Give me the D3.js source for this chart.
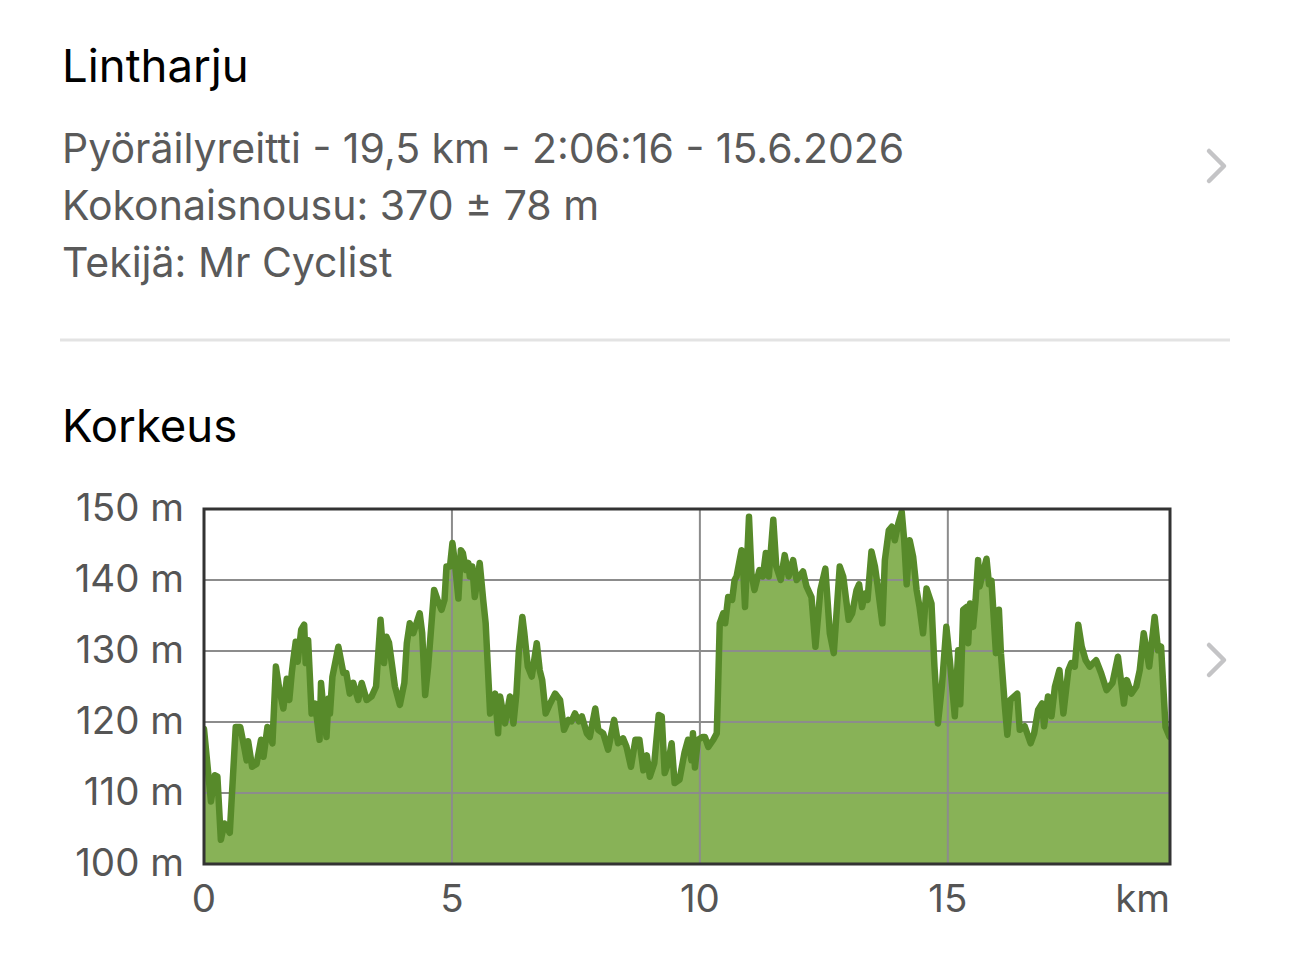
<!DOCTYPE html>
<html>
<head>
<meta charset="utf-8">
<script src="https://cdn.jsdelivr.net/npm/d3@7"></script>
<style>
  html, body { margin: 0; padding: 0; background: #ffffff; }
  svg { display: block; font-family: Inter, "Noto Sans", sans-serif; }
</style>
</head>
<body>
<svg id="chart" width="1290" height="962"></svg>
<script>
// ---- text content ----
const routeTitle = "Lintharju";
const infoLines = [
  "Pyöräilyreitti - 19,5 km - 2:06:16 - 15.6.2026",
  "Kokonaisnousu: 370 ± 78 m",
  "Tekijä: Mr Cyclist"
];
const sectionTitle = "Korkeus";

// ---- axis ticks ----
const yTicks = [100, 110, 120, 130, 140, 150];
const yTickLabels = ["100 m", "110 m", "120 m", "130 m", "140 m", "150 m"];
const xTicks = [0, 5, 10, 15];
const xTickLabels = ["0", "5", "10", "15"];
const xUnitLabel = "km";
const xMax = 19.48;

// ---- elevation profile (km, m) ----
const distanceKm = [
  0.00, 0.14, 0.22, 0.27, 0.34, 0.41, 0.47, 0.52, 0.64, 0.73, 0.81, 0.86, 0.89, 0.97,
  1.06, 1.15, 1.20, 1.28, 1.38, 1.45, 1.51, 1.60, 1.67, 1.72, 1.77, 1.80, 1.85, 1.89, 1.96,
  2.02, 2.05, 2.10, 2.17, 2.24, 2.33, 2.36, 2.42, 2.47, 2.51, 2.54, 2.59, 2.71, 2.81, 2.87, 2.94,
  3.01, 3.11, 3.18, 3.28, 3.38, 3.47, 3.56, 3.63, 3.68, 3.73, 3.85, 3.95,
  4.04, 4.09, 4.15, 4.22, 4.35, 4.40, 4.46, 4.52, 4.64, 4.71, 4.79, 4.85, 4.89, 4.96,
  5.01, 5.06, 5.13, 5.18, 5.22, 5.28, 5.33, 5.36, 5.41, 5.46, 5.50, 5.56, 5.63, 5.68, 5.77, 5.87, 5.93, 5.97,
  6.07, 6.17, 6.24, 6.30, 6.35, 6.42, 6.46, 6.53, 6.61, 6.71, 6.77, 6.82, 6.89, 6.98,
  7.08, 7.18, 7.26, 7.35, 7.41, 7.48, 7.56, 7.62, 7.72, 7.78, 7.89, 7.95,
  8.05, 8.15, 8.27, 8.35, 8.45, 8.52, 8.61, 8.70, 8.78, 8.86, 8.93, 8.99,
  9.08, 9.17, 9.23, 9.29, 9.36, 9.43, 9.49, 9.59, 9.69, 9.76, 9.83, 9.86, 9.90, 9.96,
  10.06, 10.10, 10.17, 10.27, 10.34, 10.36, 10.40, 10.47, 10.51, 10.57, 10.65, 10.70, 10.74, 10.84, 10.88, 10.91, 10.99,
  11.04, 11.10, 11.20, 11.27, 11.33, 11.39, 11.48, 11.54, 11.63, 11.71, 11.79, 11.88, 11.95,
  12.08, 12.15, 12.25, 12.33, 12.43, 12.53, 12.62, 12.70, 12.76, 12.82, 12.89,
  13.00, 13.07, 13.16, 13.21, 13.27, 13.33, 13.38, 13.46, 13.53, 13.58, 13.68, 13.73, 13.81, 13.87, 13.93,
  14.00, 14.07, 14.12, 14.17, 14.23, 14.30, 14.37, 14.43, 14.50, 14.57, 14.67, 14.73, 14.80, 14.88, 14.97,
  15.04, 15.14, 15.21, 15.25, 15.31, 15.38, 15.41, 15.45, 15.51, 15.56, 15.61, 15.64, 15.78, 15.83, 15.88, 15.97,
  16.03, 16.07, 16.15, 16.20, 16.26, 16.40, 16.45, 16.55, 16.67, 16.74, 16.82, 16.90, 16.94,
  17.02, 17.09, 17.16, 17.25, 17.33, 17.43, 17.49, 17.56, 17.63, 17.70, 17.78, 17.86, 17.99,
  18.09, 18.20, 18.32, 18.43, 18.55, 18.61, 18.70, 18.80, 18.87, 18.95,
  19.06, 19.17, 19.24, 19.30, 19.39, 19.47
];
const elevationM = [
  119.0, 108.8, 112.5, 112.3, 103.4, 105.7, 105.0, 104.4, 119.3, 119.3, 116.5, 114.6, 117.3, 113.7,
  114.1, 117.5, 115.1, 119.3, 117.0, 127.8, 125.0, 121.9, 126.1, 123.1, 126.9, 128.7, 131.3, 128.5, 133.0,
  133.7, 128.3, 131.5, 121.2, 122.6, 117.5, 125.5, 121.0, 117.9, 123.3, 121.2, 126.4, 130.6, 126.9, 126.9, 124.0,
  125.5, 123.1, 125.5, 123.1, 123.6, 125.0, 134.4, 128.3, 132.0, 131.2, 125.0, 122.4,
  125.5, 131.1, 133.9, 132.5, 135.3, 132.5, 123.8, 127.8, 138.6, 137.2, 135.8, 137.2, 141.9, 141.9,
  145.2, 142.4, 137.4, 144.2, 143.8, 141.4, 142.4, 140.5, 141.9, 137.6, 139.4, 142.4, 137.2, 133.9, 121.2, 124.0, 118.4, 123.6,
  119.8, 123.6, 119.8, 124.0, 130.1, 134.8, 132.5, 127.8, 126.4, 131.1, 127.3, 125.9, 121.2, 122.6,
  124.0, 123.1, 118.9, 120.3, 120.1, 121.2, 120.1, 120.8, 118.4, 117.9, 121.9, 118.9,
  118.4, 116.1, 120.3, 117.0, 117.7, 116.5, 113.7, 117.5, 117.5, 113.2, 115.3, 112.3,
  114.2, 121.0, 120.8, 112.8, 114.2, 117.0, 111.4, 111.9, 115.7, 117.5, 114.6, 118.4, 113.6, 117.5,
  117.9, 117.9, 116.5, 117.5, 118.4, 123.1, 133.9, 135.3, 133.9, 137.6, 137.2, 140.0, 140.5, 144.2, 140.5, 136.2, 148.9,
  140.9, 138.6, 141.4, 140.5, 143.8, 140.5, 148.5, 141.9, 140.0, 143.5, 140.5, 142.8, 140.0,
  141.2, 139.1, 137.6, 130.6, 138.6, 141.6, 132.5, 129.7, 135.8, 141.9, 140.5,
  134.4, 135.3, 138.6, 139.4, 136.2, 138.1, 137.2, 144.0, 141.9, 139.4, 133.9, 142.8, 147.0, 147.5, 145.6,
  147.9, 149.6, 145.6, 139.4, 145.6, 143.3, 138.6, 136.2, 132.5, 138.8, 136.7, 127.8, 119.8, 125.0, 133.4,
  128.7, 120.8, 130.1, 122.5, 135.8, 136.2, 131.1, 136.7, 133.4, 137.2, 142.8, 139.1, 143.0, 139.4, 139.9, 129.7,
  135.8, 129.7, 122.2, 118.2, 123.1, 124.0, 118.9, 119.4, 117.0, 118.4, 121.7, 122.6, 119.4,
  123.6, 120.8, 125.0, 127.3, 121.2, 127.3, 128.3, 127.8, 133.7, 130.6, 128.7, 127.8, 128.7,
  126.9, 124.5, 125.5, 129.2, 122.6, 125.9, 124.0, 125.0, 127.3, 132.5,
  127.8, 134.8, 130.1, 130.6, 119.3, 117.9
];

const profile = distanceKm.map((d, i) => ({ d, e: elevationM[i] }));

const svg = d3.select("#chart");

// ---- header texts ----
svg.append("text")
  .attr("x", 62).attr("y", 82)
  .attr("font-size", 45.5).attr("fill", "#000")
  .text(routeTitle);

svg.selectAll("text.info").data(infoLines).join("text")
  .attr("class", "info")
  .attr("x", 62).attr("y", (d, i) => 163 + i * 57)
  .attr("font-size", 41).attr("fill", "#5a5a5a")
  .text(d => d);

// chevrons
function chevron(cx, cy) {
  svg.append("path")
    .attr("d", `M${cx - 8},${cy - 15} L${cx + 7},${cy} L${cx - 8},${cy + 15}`)
    .attr("fill", "none").attr("stroke", "#c4c4c6")
    .attr("stroke-width", 4.5).attr("stroke-linecap", "round").attr("stroke-linejoin", "round");
}
chevron(1217, 166);
chevron(1217, 660);

// divider
svg.append("line")
  .attr("x1", 60).attr("x2", 1230).attr("y1", 340).attr("y2", 340)
  .attr("stroke", "#e3e3e3").attr("stroke-width", 3);

svg.append("text")
  .attr("x", 62).attr("y", 442)
  .attr("font-size", 45.5).attr("fill", "#000")
  .text(sectionTitle);

// ---- chart ----
const x = d3.scaleLinear().domain([0, xMax]).range([204, 1170]);
const y = d3.scaleLinear().domain([100, 150]).range([864, 509]);

svg.append("defs").append("clipPath").attr("id", "plotclip")
  .append("rect").attr("x", 204).attr("y", 509).attr("width", 966).attr("height", 355);

const area = d3.area().x(d => x(d.d)).y0(y(100)).y1(d => y(d.e));
const line = d3.line().x(d => x(d.d)).y(d => y(d.e));

const plot = svg.append("g").attr("clip-path", "url(#plotclip)");

plot.append("path").datum(profile)
  .attr("d", area).attr("fill", "#88b257");

// grid lines
plot.selectAll("line.hg").data(yTicks).join("line")
  .attr("class", "hg")
  .attr("x1", 204).attr("x2", 1170)
  .attr("y1", d => y(d)).attr("y2", d => y(d))
  .attr("stroke", "#8c8c8c").attr("stroke-width", 2);
plot.selectAll("line.vg").data(xTicks).join("line")
  .attr("class", "vg")
  .attr("x1", d => x(d)).attr("x2", d => x(d))
  .attr("y1", 509).attr("y2", 864)
  .attr("stroke", "#8c8c8c").attr("stroke-width", 2);

plot.append("path").datum(profile)
  .attr("d", line).attr("fill", "none")
  .attr("stroke", "#578a2a").attr("stroke-width", 6.5)
  .attr("stroke-linejoin", "round").attr("stroke-linecap", "round");

// border
svg.append("rect")
  .attr("x", 204).attr("y", 509).attr("width", 966).attr("height", 355)
  .attr("fill", "none").attr("stroke", "#333").attr("stroke-width", 3);

// y labels
svg.selectAll("text.yl").data(yTicks).join("text")
  .attr("class", "yl")
  .attr("x", 184).attr("y", d => y(d) + 12)
  .attr("text-anchor", "end")
  .attr("font-size", 38.5).attr("fill", "#555")
  .text((d, i) => yTickLabels[i]);

// x labels
svg.selectAll("text.xl").data(xTicks).join("text")
  .attr("class", "xl")
  .attr("x", d => x(d)).attr("y", 912)
  .attr("text-anchor", "middle")
  .attr("font-size", 38.5).attr("fill", "#555")
  .text((d, i) => xTickLabels[i]);

svg.append("text")
  .attr("x", 1170).attr("y", 912)
  .attr("text-anchor", "end")
  .attr("font-size", 38.5).attr("fill", "#555")
  .text(xUnitLabel);
</script>
</body>
</html>
